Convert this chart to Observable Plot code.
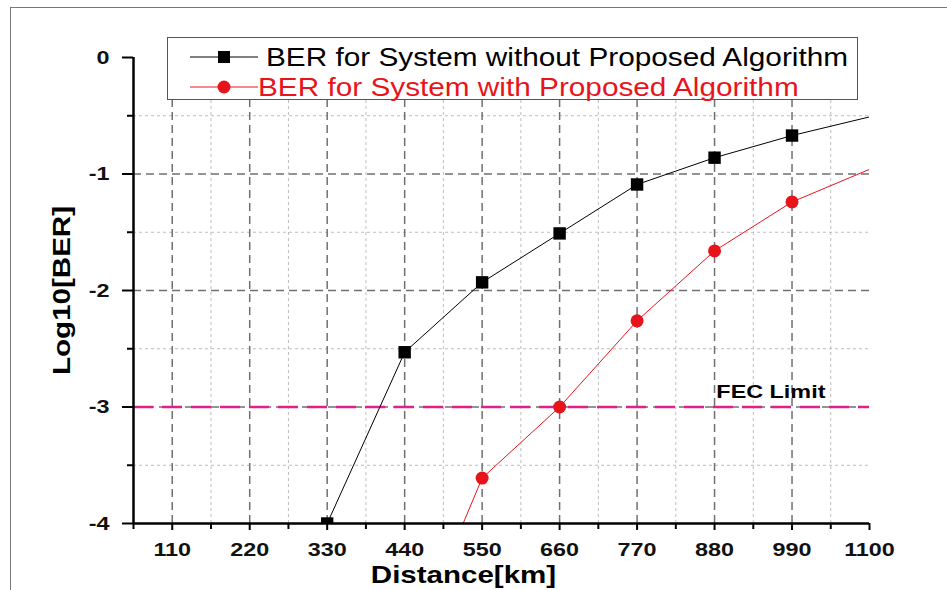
<!DOCTYPE html>
<html>
<head>
<meta charset="utf-8">
<script src="https://cdn.jsdelivr.net/npm/d3@7"></script>
<script src="https://cdn.jsdelivr.net/npm/@observablehq/plot@0.6"></script>
<style>
  html, body { margin: 0; padding: 0; background: #fff; }
  #wrap { position: relative; width: 947px; height: 590px; overflow: hidden; font-family: "Liberation Sans", Arial, sans-serif; }
  #frame { position: absolute; left: 10px; top: 7px; width: 960px; height: 600px; border-left: 1px solid #777; border-top: 1px solid #777; }
  #legend { position: absolute; left: 167px; top: 37px; width: 691px; height: 63px; border: 1px solid #555; background: #fff; box-sizing: border-box; }
  .row { position: absolute; left: 0; height: 30px; display: flex; align-items: center; font-size: 25px; white-space: nowrap; }
  .row svg { display: block; flex: none; }
  .row span { display: inline-block; transform: scaleX(1.19); transform-origin: 0 50%; }
  svg text { font-family: "Liberation Sans", Arial, sans-serif; }
</style>
</head>
<body>
<div id="wrap">
  <div id="frame"></div>
  <div id="chart"></div>
  <div id="legend"></div>
</div>
<script>
// ---- data ----
const distance = [330, 440, 550, 660, 770, 880, 990, 1100];
const berWithout = [-4.0, -2.53, -1.93, -1.51, -1.09, -0.86, -0.67, -0.51];
const distanceWith = [440, 550, 660, 770, 880, 990, 1100];
const berWith = [-5.2, -3.61, -3.0, -2.26, -1.66, -1.24, -0.96];
const markerMax = 990; // markers drawn up to this distance
const xTicks = [110, 220, 330, 440, 550, 660, 770, 880, 990, 1100];
const xMinor = [55, 165, 275, 385, 495, 605, 715, 825, 935, 1045];
const yTicks = [0, -1, -2, -3, -4];
const yMinor = [-0.5, -1.5, -2.5, -3.5];
const fecLimit = -3;
const fecLabel = "FEC Limit";
const fecLabelX = 960;
const seriesNames = ["BER for System without Proposed Algorithm", "BER for System with Proposed Algorithm"];
const seriesColors = ["#000000", "#e8141c"];
const xLabel = "Distance[km]";
const yLabel = "Log10[BER]";

const black = distance.map((d, i) => ({x: d, y: berWithout[i]}));
const red = distanceWith.map((d, i) => ({x: d, y: berWith[i]}));

const chart = Plot.plot({
  width: 947,
  height: 590,
  marginLeft: 133,
  marginRight: 78,
  marginTop: 57,
  marginBottom: 67,
  style: {fontFamily: "Liberation Sans, Arial, sans-serif", background: "transparent", overflow: "visible"},
  x: {domain: [55, 1100], label: null},
  y: {domain: [-4, 0], label: null},
  marks: [
    Plot.ruleX(xMinor.slice(1), {y1: -4, y2: 0, stroke: "#bdbdbd", strokeDasharray: "3,3", strokeWidth: 1}),
    Plot.ruleY(yMinor, {x1: 55, x2: 1100, stroke: "#bdbdbd", strokeDasharray: "3,3", strokeWidth: 1}),
    Plot.ruleX(xTicks.slice(0, -1), {y1: -4, y2: 0, stroke: "#707070", strokeDasharray: "8,5", strokeWidth: 1.5}),
    Plot.ruleY(yTicks.slice(1, -1), {x1: 55, x2: 1100, stroke: "#707070", strokeDasharray: "8,5", strokeWidth: 1.5}),
    Plot.ruleY([fecLimit], {x1: 55, x2: 1100, stroke: "#e0208c", strokeDasharray: "20,9", strokeWidth: 2.5}),
    Plot.text([fecLabel], {x: () => fecLabelX, y: () => fecLimit, text: d => d, dy: -15, fontSize: 19, fontWeight: "bold", fill: "#000"}),
    Plot.line(black, {x: "x", y: "y", stroke: seriesColors[0], strokeWidth: 1, curve: "linear", clip: true}),
    Plot.line(red, {x: "x", y: "y", stroke: seriesColors[1], strokeWidth: 1, curve: "linear", clip: true}),
    Plot.dot(black.filter(d => d.x <= markerMax), {x: "x", y: "y", symbol: "square", r: 7, fill: seriesColors[0], stroke: "none", clip: true}),
    Plot.dot(red.filter(d => d.x <= markerMax), {x: "x", y: "y", r: 6.5, fill: seriesColors[1], stroke: "none", clip: true}),
    Plot.axisX({ticks: xMinor, tickFormat: () => "", tickSize: 6, strokeWidth: 2}),
    Plot.axisX({ticks: xTicks, tickSize: 7, tickPadding: 12, fontSize: 19, fontWeight: "bold", fill: "#111", strokeWidth: 2, tickFormat: d => String(d)}),
    Plot.axisY({ticks: yMinor, tickFormat: () => "", tickSize: 6, strokeWidth: 2}),
    Plot.axisY({ticks: yTicks, tickSize: 11, tickPadding: 13, fontSize: 19, fontWeight: "bold", fill: "#111", strokeWidth: 2, tickFormat: d => String(d)}),
    Plot.ruleX([55], {y1: -4, y2: 0, stroke: "#000", strokeWidth: 2.5}),
    Plot.ruleY([-4], {x1: 55, x2: 1100, stroke: "#000", strokeWidth: 2.5}),
    Plot.text([xLabel], {frameAnchor: "bottom", dy: 59, dx: -38, text: d => d, fontSize: 24, fontWeight: "bold", fill: "#000"}),
    Plot.text([yLabel], {frameAnchor: "left", textAnchor: "middle", dx: -71, rotate: -90, text: d => d, fontSize: 24, fontWeight: "bold", fill: "#000"})
  ]
});
chart.style.position = "absolute";
chart.style.left = "0px";
chart.style.top = "0px";
document.getElementById("chart").appendChild(chart);

// the reference's lettering is horizontally wide: stretch glyphs uniformly
const stretch = 1.23;
d3.select(chart).selectAll("text").each(function () {
  const L = this.getComputedTextLength();
  if (L > 0) {
    this.setAttribute("textLength", L * stretch);
    this.setAttribute("lengthAdjust", "spacingAndGlyphs");
  }
});

// legend
const legend = document.getElementById("legend");
seriesNames.forEach((name, i) => {
  const row = document.createElement("div");
  row.className = "row";
  row.style.top = (i === 0 ? 4 : 34) + "px";
  row.style.left = "22px";
  row.style.color = seriesColors[i];
  const s = d3.create("svg").attr("width", i === 0 ? 76 : 68).attr("height", 30);
  s.append("line").attr("x1", 0).attr("x2", 68).attr("y1", 15).attr("y2", 15).attr("stroke", seriesColors[i]).attr("stroke-width", 1);
  if (i === 0) s.append("rect").attr("x", 28).attr("y", 9).attr("width", 12).attr("height", 12).attr("fill", seriesColors[i]);
  else s.append("circle").attr("cx", 34).attr("cy", 15).attr("r", 6.5).attr("fill", seriesColors[i]);
  row.appendChild(s.node());
  const t = document.createElement("span");
  t.textContent = name;
  row.appendChild(t);
  legend.appendChild(row);
});
</script>
</body>
</html>
